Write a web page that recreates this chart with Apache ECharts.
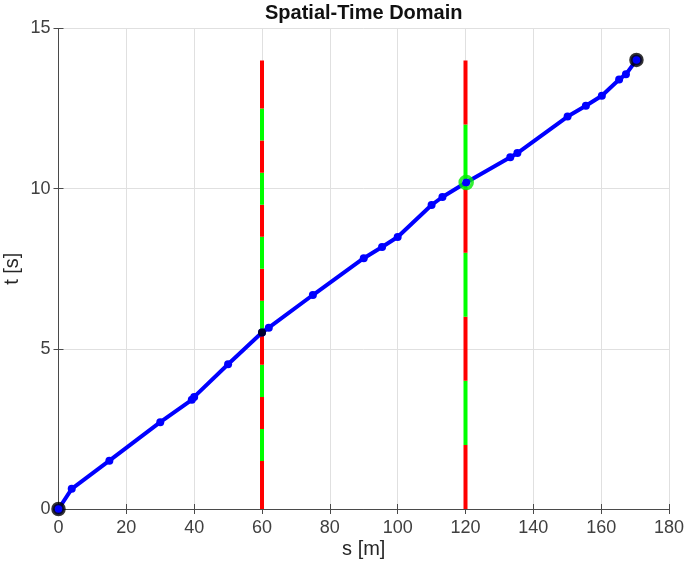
<!DOCTYPE html>
<html>
<head>
<meta charset="utf-8">
<script src="https://cdn.jsdelivr.net/npm/echarts@6/dist/echarts.min.js"></script>
<style>
html,body{margin:0;padding:0;background:#fff;}
#chart{width:685px;height:570px;}
</style>
</head>
<body>
<div id="chart"></div>
<script>
// ---- data ----
const titleText = 'Spatial-Time Domain';
const xName = 's [m]';
const yName = 't [s]';
const xTicks = [0, 20, 40, 60, 80, 100, 120, 140, 160, 180];
const yTicks = [0, 5, 10, 15];

const pathS = [0, 3.9, 15, 30, 39.3, 40, 50, 60, 62, 75, 90, 95.4, 100, 110, 113.2, 120.2, 133.2, 135.3, 150.1, 155.5, 160.2, 165.3, 167.3, 170.4];
const pathT = [0, 0.63, 1.51, 2.71, 3.41, 3.5, 4.52, 5.51, 5.66, 6.68, 7.83, 8.18, 8.49, 9.49, 9.74, 10.19, 10.98, 11.11, 12.25, 12.59, 12.9, 13.41, 13.57, 14.02];

const startPoint = [0, 0];
const endPoint = [170.4, 14.02];
const crossPoint = [60, 5.51];
const meetPoint = [120.2, 10.19];

const light1S = 60;
const light1Bounds = [0, 1.5, 2.5, 3.5, 4.5, 5.5, 6.5, 7.5, 8.5, 9.5, 10.5, 11.5, 12.5, 14];
const light1Colors = ['red', 'green', 'red', 'green', 'red', 'green', 'red', 'green', 'red', 'green', 'red', 'green', 'red'];
const light2S = 120;
const light2Bounds = [0, 2, 4, 6, 8, 10, 12, 14];
const light2Colors = ['red', 'green', 'red', 'green', 'red', 'green', 'red'];

// ---- build chart ----
const FONT = '"Liberation Sans", Arial, Helvetica, sans-serif';
const colorMap = { red: '#ff0000', green: '#00ff00' };
const series = [];

function addLight(s, bounds, colors) {
  for (let i = 0; i < colors.length; i++) {
    series.push({
      type: 'line',
      data: [[s, bounds[i]], [s, bounds[i + 1]]],
      symbol: 'none',
      silent: true,
      animation: false,
      lineStyle: { color: colorMap[colors[i]], width: 4, cap: 'butt' },
      z: 2
    });
  }
}
addLight(light1S, light1Bounds, light1Colors);
addLight(light2S, light2Bounds, light2Colors);

series.push({
  type: 'line',
  data: pathS.map((s, i) => [s, pathT[i]]),
  symbol: 'circle',
  symbolSize: 8,
  showAllSymbol: true,
  itemStyle: { color: '#0000ff' },
  lineStyle: { color: '#0000ff', width: 4 },
  animation: false,
  z: 3
});

series.push({
  type: 'scatter',
  data: [crossPoint],
  symbolSize: 8,
  itemStyle: { color: '#000000' },
  animation: false,
  z: 4
});
series.push({
  type: 'scatter',
  data: [meetPoint],
  symbolSize: 12,
  itemStyle: { color: 'rgba(0,0,255,0)', borderColor: '#00ee00', borderWidth: 3.5 },
  animation: false,
  z: 4
});
series.push({
  type: 'scatter',
  data: [startPoint, endPoint],
  symbolSize: 11,
  itemStyle: { color: '#0000ff', borderColor: '#000000', borderWidth: 3.5 },
  animation: false,
  z: 5
});

const axisLineColor = '#4a4a4a';
const chart = echarts.init(document.getElementById('chart'));
chart.setOption({
  backgroundColor: '#ffffff',
  animation: false,
  title: {
    text: titleText,
    left: 363.75,
    textAlign: 'center',
    top: 3,
    padding: 0,
    textStyle: { fontFamily: FONT, fontSize: 20, fontWeight: 'bold', color: '#111' }
  },
  grid: { left: 58.5, right: 16, top: 28.5, bottom: 61, containLabel: false, outerBoundsMode: 'none' },
  xAxis: [{
    type: 'value',
    min: xTicks[0], max: xTicks[xTicks.length - 1], interval: xTicks[1] - xTicks[0],
    name: xName, nameLocation: 'middle', nameGap: 30, nameMoveOverlap: false,
    nameTextStyle: { fontFamily: FONT, fontSize: 20, color: '#262626' },
    axisLine: { show: true, lineStyle: { color: axisLineColor, width: 1 } },
    axisTick: { show: true, inside: true, length: 5, lineStyle: { color: axisLineColor } },
    axisLabel: { fontFamily: FONT, fontSize: 18, color: '#404040', margin: 10 },
    splitLine: { show: true, lineStyle: { color: '#e0e0e0', width: 1 } }
  }, {
    type: 'value', position: 'top',
    min: xTicks[0], max: xTicks[xTicks.length - 1], interval: xTicks[1] - xTicks[0],
    axisLine: { show: true, lineStyle: { color: axisLineColor, width: 1 } },
    axisTick: { show: true, inside: true, length: 5, lineStyle: { color: axisLineColor } },
    axisLabel: { show: false }, splitLine: { show: false }
  }],
  yAxis: [{
    type: 'value',
    min: yTicks[0], max: yTicks[yTicks.length - 1], interval: yTicks[1] - yTicks[0],
    name: yName, nameLocation: 'middle', nameGap: 36, nameRotate: 90, nameMoveOverlap: false,
    nameTextStyle: { fontFamily: FONT, fontSize: 20, color: '#262626' },
    axisLine: { show: true, lineStyle: { color: axisLineColor, width: 1 } },
    axisTick: { show: true, inside: true, length: 5, lineStyle: { color: axisLineColor } },
    axisLabel: { fontFamily: FONT, fontSize: 18, color: '#404040', margin: 8 },
    splitLine: { show: true, lineStyle: { color: '#e0e0e0', width: 1 } }
  }, {
    type: 'value', position: 'right',
    min: yTicks[0], max: yTicks[yTicks.length - 1], interval: yTicks[1] - yTicks[0],
    axisLine: { show: true, lineStyle: { color: axisLineColor, width: 1 } },
    axisTick: { show: true, inside: true, length: 5, lineStyle: { color: axisLineColor } },
    axisLabel: { show: false }, splitLine: { show: false }
  }],
  series: series
});
</script>
</body>
</html>
